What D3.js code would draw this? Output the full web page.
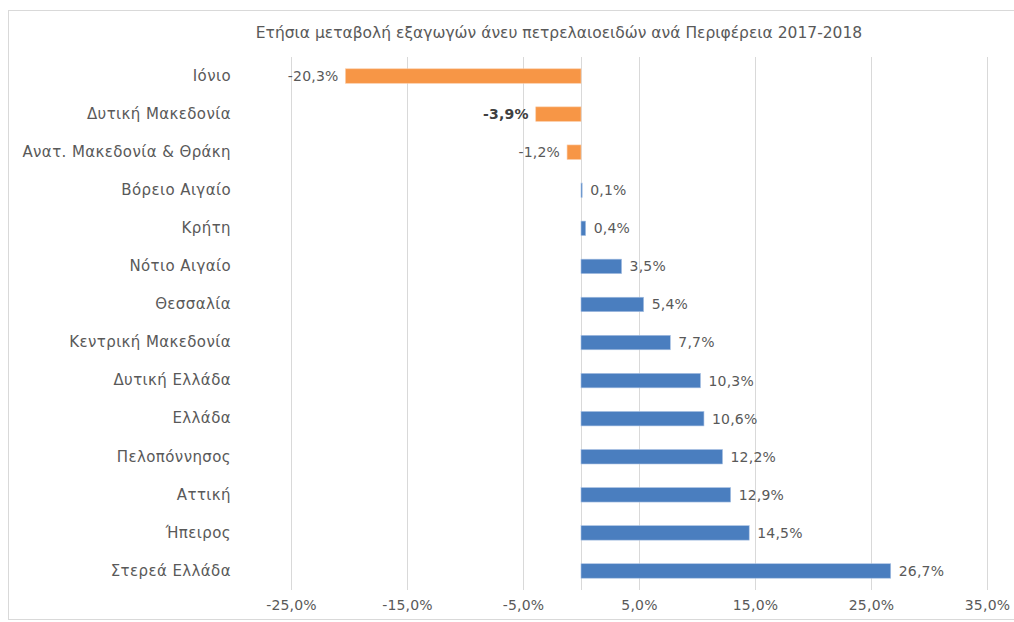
<!DOCTYPE html>
<html>
<head>
<meta charset="utf-8">
<script src="https://cdn.jsdelivr.net/npm/d3@7"></script>
<style>
  html, body { margin: 0; padding: 0; background: #fff; }
  svg { display: block; }
  text { font-family: "DejaVu Sans", sans-serif; }
</style>
</head>
<body>
<svg id="chart" width="1014" height="622"></svg>
<script>
const categories = [
  "Ιόνιο", "Δυτική Μακεδονία", "Ανατ. Μακεδονία & Θράκη", "Βόρειο Αιγαίο",
  "Κρήτη", "Νότιο Αιγαίο", "Θεσσαλία", "Κεντρική Μακεδονία",
  "Δυτική Ελλάδα", "Ελλάδα", "Πελοπόννησος", "Αττική", "Ήπειρος", "Στερεά Ελλάδα"
];
const values = [-20.3, -3.9, -1.2, 0.1, 0.4, 3.5, 5.4, 7.7, 10.3, 10.6, 12.2, 12.9, 14.5, 26.7];
const tickValues = [-25, -15, -5, 5, 15, 25, 35];
const title = "Ετήσια μεταβολή εξαγωγών άνευ πετρελαιοειδών ανά Περιφέρεια 2017-2018";
const boldCategory = "Δυτική Μακεδονία";

const fmt = v => v.toFixed(1).replace(".", ",") + "%";

const svg = d3.select("#chart");
const W = 1014, H = 622;
const plot = { left: 291, right: 987, top: 57, bottom: 590 };

// chart frame
svg.append("rect")
  .attr("x", 8.5).attr("y", 10.5)
  .attr("width", W + 20).attr("height", 609)
  .attr("fill", "#fff").attr("stroke", "#d9d9d9").attr("stroke-width", 1);

const x = d3.scaleLinear().domain([-25, 35]).range([plot.left, plot.right]);
const y = d3.scaleBand().domain(categories).range([plot.top, plot.bottom]).paddingInner(0.62).paddingOuter(0.31);

// gridlines
svg.append("g").selectAll("line").data(tickValues).join("line")
  .attr("x1", d => Math.round(x(d)) + 0.5).attr("x2", d => Math.round(x(d)) + 0.5)
  .attr("y1", plot.top).attr("y2", plot.bottom)
  .attr("stroke", "#d9d9d9").attr("stroke-width", 1);

// zero axis line
svg.append("line")
  .attr("x1", Math.round(x(0)) + 0.5).attr("x2", Math.round(x(0)) + 0.5)
  .attr("y1", plot.top).attr("y2", plot.bottom)
  .attr("stroke", "#d9d9d9").attr("stroke-width", 1);

// bottom axis labels
const xAxis = d3.axisBottom(x).tickValues(tickValues).tickFormat(fmt).tickSize(0).tickPadding(0);
const gx = svg.append("g").attr("transform", `translate(0, ${plot.bottom + 10})`).call(xAxis);
gx.select(".domain").remove();
gx.selectAll("text")
  .attr("font-size", 14).attr("fill", "#595959")
  .attr("letter-spacing", 0.2)
  .style("font-family", "DejaVu Sans, sans-serif");

// left category labels
const yAxis = d3.axisLeft(y).tickSize(0).tickPadding(0);
const gy = svg.append("g").attr("transform", `translate(231, 0)`).call(yAxis);
gy.select(".domain").remove();
gy.selectAll("text")
  .attr("font-size", 15).attr("fill", "#595959")
  .attr("letter-spacing", 0.4)
  .style("font-family", "DejaVu Sans, sans-serif");

// bars
svg.append("g").selectAll("rect").data(values).join("rect")
  .attr("x", d => x(Math.min(0, d)))
  .attr("y", (d, i) => y(categories[i]))
  .attr("width", d => Math.abs(x(d) - x(0)))
  .attr("height", y.bandwidth())
  .attr("fill", d => d < 0 ? "#F79646" : "#4A7EBF")
  .attr("stroke", d => d < 0 ? "#FBC9A2" : "#A9C1E3")
  .attr("stroke-width", 0.6);

// value labels
svg.append("g").selectAll("text").data(values).join("text")
  .attr("x", d => d < 0 ? x(d) - 7 : x(d) + 8)
  .attr("y", (d, i) => y(categories[i]) + y.bandwidth() / 2)
  .attr("dy", "0.35em")
  .attr("text-anchor", d => d < 0 ? "end" : "start")
  .attr("font-size", 14)
  .attr("letter-spacing", 0.2)
  .attr("font-weight", (d, i) => categories[i] === boldCategory ? "bold" : "normal")
  .attr("fill", (d, i) => categories[i] === boldCategory ? "#404040" : "#595959")
  .text(fmt);

// title
svg.append("text")
  .attr("x", 559).attr("y", 38)
  .attr("text-anchor", "middle")
  .attr("font-size", 15.5).attr("fill", "#595959")
  .text(title);
</script>
</body>
</html>
